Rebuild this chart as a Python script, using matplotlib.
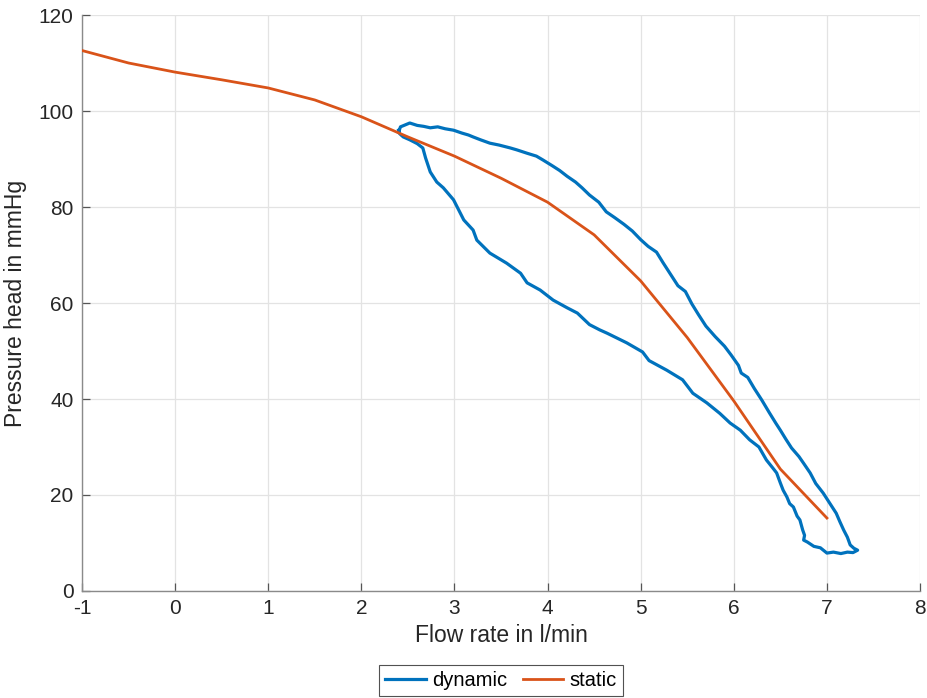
import matplotlib
matplotlib.use("Agg")
import matplotlib.pyplot as plt

plt.rcParams['font.family'] = ['Liberation Sans', 'DejaVu Sans']

static_x = [-1.0, -0.5, 0.0, 0.5, 1.0, 1.5, 2.0, 2.5, 3.0, 3.5, 4.0, 4.5, 5.0, 5.5, 6.0, 6.5, 7.0]
static_y = [112.6, 110.0, 108.1, 106.5, 104.8, 102.3, 98.8, 94.6, 90.6, 86.0, 81.0, 74.2, 64.6, 52.8, 39.6, 25.4, 15.2]

dyn_x = [2.40, 2.42, 2.47, 2.52, 2.60, 2.67, 2.74, 2.82, 2.90, 2.99, 3.08, 3.15, 3.20, 3.28, 3.38,
         3.48, 3.60, 3.67, 3.78, 3.88, 3.95, 4.05, 4.13, 4.21, 4.30, 4.37, 4.45, 4.55, 4.63, 4.72,
         4.82, 4.91, 5.00, 5.08, 5.17, 5.24, 5.32, 5.40, 5.48, 5.55, 5.62, 5.70, 5.80, 5.90, 5.97,
         6.05, 6.08, 6.15, 6.22, 6.30, 6.38, 6.45, 6.50, 6.56, 6.62, 6.70, 6.75, 6.82, 6.88, 6.96,
         7.02, 7.10, 7.14, 7.18, 7.22, 7.25, 7.29, 7.33, 7.28, 7.22, 7.15, 7.07, 7.00, 6.93, 6.86,
         6.79, 6.75, 6.76, 6.74, 6.71, 6.68, 6.64, 6.60, 6.57, 6.53, 6.50, 6.46, 6.42, 6.35, 6.27,
         6.17, 6.07, 5.96, 5.85, 5.71, 5.56, 5.45, 5.28, 5.09, 5.02, 4.85, 4.64, 4.56, 4.45, 4.32,
         4.21, 4.06, 3.92, 3.78, 3.71, 3.56, 3.38, 3.24, 3.20, 3.10, 2.99, 2.88, 2.81, 2.74, 2.69,
         2.66, 2.60, 2.52, 2.45, 2.41, 2.40]
dyn_y = [95.6, 96.7, 97.1, 97.5, 97.0, 96.8, 96.5, 96.7, 96.3, 96.0, 95.4, 95.0, 94.6, 94.0, 93.3,
         92.9, 92.3, 91.9, 91.2, 90.6, 89.8, 88.6, 87.6, 86.4, 85.2, 84.0, 82.5, 81.0, 79.0, 77.8,
         76.4, 75.0, 73.2, 71.8, 70.6, 68.4, 66.0, 63.6, 62.4, 59.8, 57.6, 55.2, 53.0, 51.0, 49.2,
         47.0, 45.4, 44.5, 42.2, 39.8, 37.2, 35.0, 33.5, 31.6, 29.8, 28.0, 26.6, 24.6, 22.4, 20.4,
         18.6, 16.2, 14.4, 12.7, 11.2, 9.6, 8.9, 8.5, 8.0, 8.1, 7.8, 8.1, 7.9, 9.0, 9.3,
         10.2, 10.6, 11.6, 12.7, 14.8, 15.6, 17.5, 18.2, 19.6, 21.0, 22.5, 24.6, 25.6, 27.3, 30.0,
         31.5, 33.5, 35.0, 37.0, 39.2, 41.2, 44.0, 46.0, 48.0, 49.8, 51.7, 53.7, 54.4, 55.5, 57.9,
         59.0, 60.6, 62.7, 64.2, 66.2, 68.3, 70.4, 73.1, 75.2, 77.3, 81.5, 84.0, 85.2, 87.3, 90.2,
         92.3, 93.2, 94.0, 94.6, 95.3, 96.0]

x_ticks = [-1, 0, 1, 2, 3, 4, 5, 6, 7, 8]
y_ticks = [0, 20, 40, 60, 80, 100, 120]

fig = plt.figure(figsize=(9.28, 6.98), dpi=100)
ax_rect = [0.0884, 0.1533, 0.903, 0.8252]
ax = fig.add_axes(ax_rect)

ax.plot(dyn_x, dyn_y, color='#0072BD', lw=2.3, label='dynamic', zorder=3)
ax.plot(static_x, static_y, color='#D95319', lw=2.0, label='static', zorder=4)

ax.set_xlim(-1, 8)
ax.set_ylim(0, 120)
ax.set_xticks(x_ticks)
ax.set_yticks(y_ticks)
ax.set_xticklabels([str(v) for v in x_ticks])
ax.grid(True, color='#e3e3e3', lw=0.9)
ax.set_axisbelow(True)
for s in ['top', 'right']:
    ax.spines[s].set_visible(False)
for s in ['left', 'bottom']:
    ax.spines[s].set_color('#8a8a8a')
    ax.spines[s].set_linewidth(1.0)
ax.tick_params(direction='in', length=5.5, width=0.9, color='#555555',
               labelsize=15, labelcolor='#262626', pad=6)

ax.set_xlabel('Flow rate in l/min', fontsize=16.5, color='#262626', labelpad=4)
ax.set_ylabel('Pressure head in mmHg', fontsize=16.5, color='#262626', labelpad=8)

leg = fig.legend(loc='lower center', bbox_to_anchor=(ax_rect[0] + ax_rect[2] / 2, 0.0), ncol=2,
                 fontsize=14.5, frameon=True, fancybox=False, edgecolor='#262626',
                 handlelength=2.0, handletextpad=0.3, columnspacing=0.8, borderpad=0.3,
                 borderaxespad=0.1)
leg.get_frame().set_linewidth(0.8)

fig.savefig('out.png', dpi=100)
